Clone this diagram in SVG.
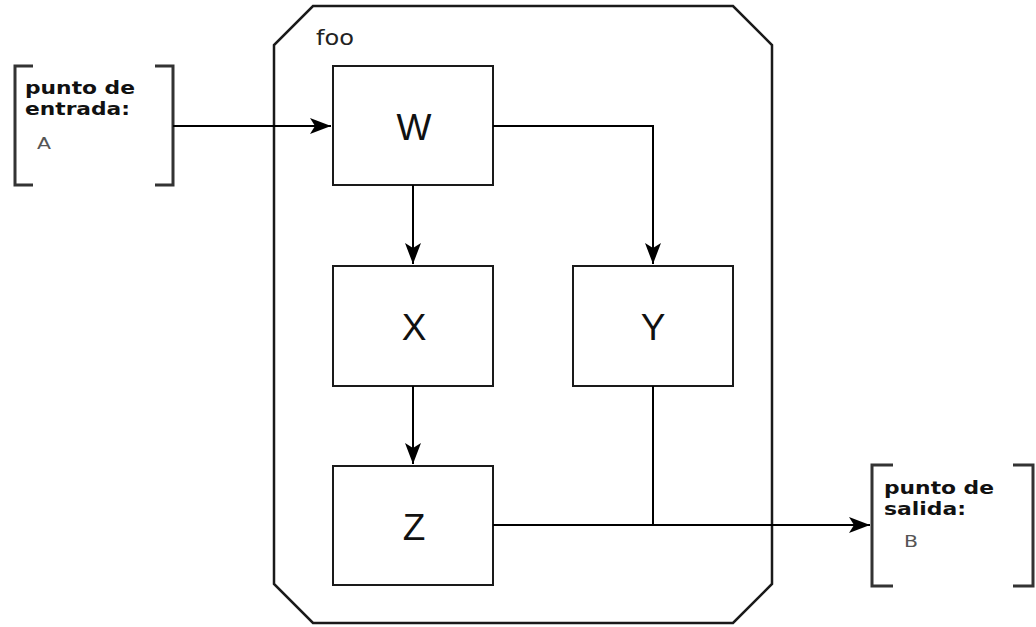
<svg xmlns="http://www.w3.org/2000/svg" width="1036" height="627" viewBox="0 0 1036 627">
<style>
.box{fill:#fff;stroke:#1a1a1a;stroke-width:2}
.cont{fill:#fff;stroke:#1a1a1a;stroke-width:2.5}
.br{fill:none;stroke:#333;stroke-width:3}
.edge{fill:none;stroke:#000;stroke-width:2}
.big{font-family:"Liberation Sans",Arial,sans-serif;font-size:37px;fill:#111;text-anchor:middle}
.lbl{font-family:"DejaVu Sans",Verdana,sans-serif;font-weight:bold;font-size:18px;fill:#111}
.sub{font-family:"DejaVu Sans",Verdana,sans-serif;font-size:15px;fill:#555}
.foo{font-family:"DejaVu Sans",Verdana,sans-serif;font-size:21px;fill:#222}
</style>
<defs>
<marker id="ah" markerUnits="userSpaceOnUse" markerWidth="24" markerHeight="20" refX="22" refY="9" orient="auto">
<path d="M1,1 L22,9 L1,17 L6,9 z" fill="#000"/>
</marker>
</defs>
<g id="foo">
<polygon class="cont" points="313,6 733,6 772,45 772,584 733,623 313,623 274,584 274,45"/>
<text class="foo" x="316" y="45" textLength="38" lengthAdjust="spacingAndGlyphs">foo</text>
</g>
<g id="entry">
<path class="br" d="M33,66 H15 V185 H33 M155,66 H173 V185 H155"/>
<text class="lbl" x="25" y="94" textLength="110" lengthAdjust="spacingAndGlyphs">punto de</text>
<text class="lbl" x="25" y="115" textLength="105" lengthAdjust="spacingAndGlyphs">entrada:</text>
<text class="sub" x="37" y="149" textLength="14" lengthAdjust="spacingAndGlyphs">A</text>
</g>
<g id="exit">
<path class="br" d="M893,465 H872 V586 H893 M1013,465 H1033 V586 H1013"/>
<text class="lbl" x="884" y="494" textLength="110" lengthAdjust="spacingAndGlyphs">punto de</text>
<text class="lbl" x="884" y="515" textLength="82" lengthAdjust="spacingAndGlyphs">salida:</text>
<text class="sub" x="904" y="547" textLength="14" lengthAdjust="spacingAndGlyphs">B</text>
</g>
<g id="W"><rect class="box" x="333" y="66" width="160" height="119"/><text class="big" x="414" y="140">W</text></g>
<g id="X"><rect class="box" x="333" y="266" width="160" height="120"/><text class="big" x="414" y="340">X</text></g>
<g id="Y"><rect class="box" x="573" y="266" width="160" height="120"/><text class="big" x="653" y="340">Y</text></g>
<g id="Z"><rect class="box" x="333" y="466" width="160" height="119"/><text class="big" x="414" y="540">Z</text></g>
<g id="connectors">
<path class="edge" d="M173,126 H331" marker-end="url(#ah)"/>
<path class="edge" d="M413,185 V264" marker-end="url(#ah)"/>
<path class="edge" d="M493,126 H653 V264" marker-end="url(#ah)"/>
<path class="edge" d="M413,386 V464" marker-end="url(#ah)"/>
<path class="edge" d="M493,525 H870" marker-end="url(#ah)"/>
<path class="edge" d="M653,386 V525"/>
</g>
</svg>
